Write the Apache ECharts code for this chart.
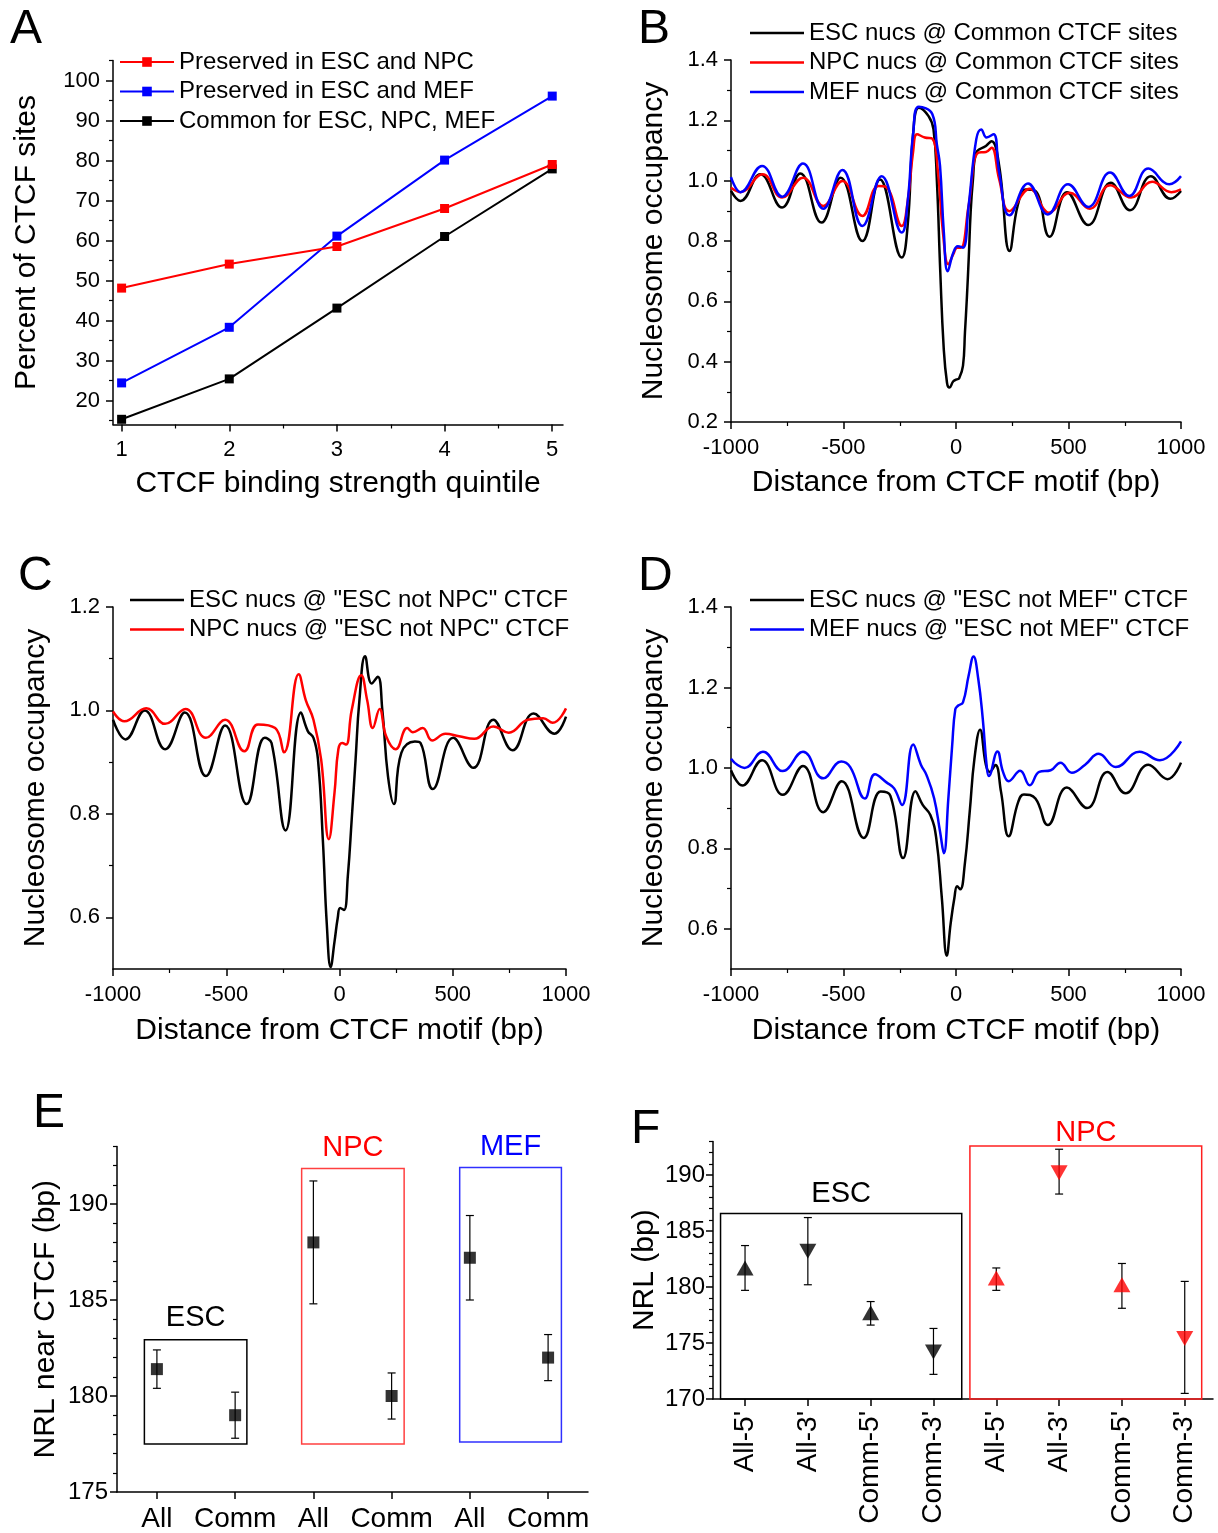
<!DOCTYPE html>
<html><head><meta charset="utf-8">
<script src="https://cdn.jsdelivr.net/npm/echarts@6/dist/echarts.min.js"></script>
<style>html,body{margin:0;padding:0;background:#fff}#c{width:1218px;height:1533px}</style>
</head><body><div id="c"></div>
<script>
// ---------------- DATA ----------------
// Panel A
const aQuintiles = [1, 2, 3, 4, 5];
const aEscNpc = [48.1, 54.1, 58.5, 68.0, 79.0];
const aEscMef = [24.4, 38.3, 61.1, 80.1, 96.1];
const aCommon = [15.3, 25.4, 43.1, 61.0, 77.9];
const aNames = ['Preserved in ESC and NPC', 'Preserved in ESC and MEF', 'Common for ESC, NPC, MEF'];

// Panel B (Common CTCF sites)
const bEscX = [-1000,-958,-870,-773,-692,-598,-513,-416,-338,-241,-215,-190,-165,-122,-100,-85,-70,-55,-40,-29,-12,3,14,31,40,48,57,65,75,90,133,158,192,238,275,311,353,416,493,588,688,773,866,953,1000];
const bEscY = [0.966,0.933,1.021,0.911,1.024,0.861,1.010,0.800,1.004,0.745,0.85,1.16,1.242,1.214,1.17,1.0,0.70,0.45,0.33,0.314,0.335,0.341,0.345,0.386,0.50,0.607,0.75,0.894,1.0,1.093,1.115,1.131,1.049,0.767,0.92,0.971,0.966,0.814,0.962,0.853,0.993,0.902,1.015,0.940,0.966];
const bNpcX = [-1000,-958,-860,-773,-680,-590,-505,-416,-345,-310,-241,-215,-190,-173,-139,-105,-80,-58,-34,-12,5,22,56,99,133,158,192,238,328,413,506,595,685,778,872,957,1000];
const bNpcY = [0.977,0.962,1.021,0.944,1.010,0.916,0.999,0.883,0.982,0.978,0.850,0.93,1.10,1.154,1.143,1.139,1.027,0.828,0.723,0.756,0.778,0.778,0.916,1.093,1.095,1.109,1.004,0.899,0.973,0.894,0.960,0.907,0.985,0.944,0.996,0.962,0.971];
const bMefX = [-1000,-958,-862,-773,-680,-590,-505,-416,-330,-241,-215,-190,-165,-105,-85,-71,-54,-37,-12,8,31,56,90,112,136,167,192,238,320,408,498,588,685,770,855,948,1000];
const bMefY = [1.012,0.962,1.049,0.947,1.057,0.907,1.035,0.850,1.015,0.828,0.93,1.16,1.245,1.220,1.12,1.049,0.828,0.700,0.761,0.783,0.778,0.916,1.137,1.170,1.143,1.154,1.027,0.885,0.991,0.888,0.988,0.913,1.027,0.949,1.040,0.988,1.015];
const bNames = ['ESC nucs @ Common CTCF sites', 'NPC nucs @ Common CTCF sites', 'MEF nucs @ Common CTCF sites'];

// Panel C ("ESC not NPC" CTCF)
const cEscX = [-1000,-945,-860,-770,-683,-590,-505,-410,-330,-300,-238,-170,-140,-115,-95,-73,-56,-39,-22,-8,3,20,37,54,71,88,113,142,169,189,214,240,273,333,358,412,502,591,679,764,857,949,1000];
const cEscY = [0.982,0.944,1.000,0.925,0.996,0.873,0.971,0.819,0.947,0.937,0.768,0.996,0.960,0.947,0.905,0.745,0.586,0.504,0.553,0.598,0.618,0.614,0.681,0.790,0.905,1.020,1.105,1.052,1.065,1.001,0.873,0.819,0.918,0.940,0.937,0.848,0.947,0.889,0.982,0.923,0.994,0.955,0.988];
const cNpcX = [-1000,-950,-853,-770,-680,-590,-505,-420,-360,-284,-245,-180,-149,-115,-81,-47,-22,-5,12,29,54,96,122,147,177,206,248,299,324,367,409,468,528,595,679,747,831,899,941,1000];
const cNpcY = [0.998,0.979,1.004,0.974,1.003,0.947,0.982,0.921,0.973,0.966,0.919,1.070,1.020,0.982,0.905,0.751,0.841,0.925,0.937,0.934,1.001,1.068,1.020,0.966,1.003,0.950,0.925,0.966,0.958,0.966,0.942,0.955,0.950,0.945,0.969,0.957,0.982,0.985,0.976,1.004];
const cNames = ['ESC nucs @ "ESC not NPC" CTCF', 'NPC nucs @ "ESC not NPC" CTCF'];

// Panel D ("ESC not MEF" CTCF)
const dEscX = [-1000,-950,-862,-770,-680,-590,-508,-410,-335,-292,-235,-180,-148,-114,-88,-63,-41,-24,-7,5,19,39,61,82,107,133,150,175,200,234,277,302,353,408,493,583,673,753,855,940,1000];
const dEscY = [0.994,0.956,1.019,0.933,1.005,0.890,0.967,0.826,0.941,0.931,0.776,0.942,0.908,0.883,0.826,0.677,0.533,0.612,0.677,0.706,0.698,0.760,0.891,1.023,1.095,1.007,0.990,1.007,0.941,0.830,0.916,0.934,0.924,0.858,0.951,0.900,0.990,0.937,1.008,0.972,1.013];
const dMefX = [-1000,-971,-940,-858,-770,-680,-590,-510,-470,-405,-360,-309,-275,-240,-190,-156,-131,-97,-71,-54,-34,-17,-3,10,31,56,78,99,119,136,146,184,209,234,285,328,370,421,464,515,574,634,710,815,906,1000];
const dMefY = [1.023,1.007,1.000,1.040,0.992,1.040,0.974,1.016,1.002,0.924,0.984,0.964,0.949,0.908,1.058,1.008,0.982,0.924,0.842,0.788,0.924,1.056,1.146,1.155,1.163,1.229,1.277,1.221,1.122,1.007,0.980,1.041,0.990,0.967,0.993,0.957,0.990,0.994,1.013,0.988,1.008,1.035,1.002,1.040,1.019,1.066];
const dNames = ['ESC nucs @ "ESC not MEF" CTCF', 'MEF nucs @ "ESC not MEF" CTCF'];

// Panel E
const eLabels = ['All', 'Comm', 'All', 'Comm', 'All', 'Comm'];
const eNrl = [181.4, 179.0, 188.0, 180.0, 187.2, 182.0];
const eLow = [180.4, 177.8, 184.8, 178.8, 185.0, 180.8];
const eHigh = [182.4, 180.2, 191.2, 181.2, 189.4, 183.2];
const eGroups = ['ESC', 'NPC', 'MEF'];

// Panel F
const fLabels = ["All-5'", "All-3'", "Comm-5'", "Comm-3'", "All-5'", "All-3'", "Comm-5'", "Comm-3'"];
const fNrl = [181.7, 183.2, 177.7, 174.2, 180.8, 190.2, 180.2, 175.4];
const fLow = [179.7, 180.2, 176.6, 172.2, 179.7, 188.3, 178.1, 170.5];
const fHigh = [183.7, 186.2, 178.7, 176.3, 181.7, 192.3, 182.1, 180.5];
const fEnd = ['5', '3', '5', '3', '5', '3', '5', '3'];
const fCell = ['ESC', 'ESC', 'ESC', 'ESC', 'NPC', 'NPC', 'NPC', 'NPC'];

// ---------------- CHART ----------------
const FONT = '"Liberation Sans", Arial, Helvetica, sans-serif';
const RED = '#ff0000', BLUE = '#0000ff', BLACK = '#000000';
const chart = echarts.init(document.getElementById('c'), null, {renderer: 'canvas'});
const grids = [], xAxes = [], yAxes = [], series = [], legends = [], graphics = [];

function addGrid(left, top, width, height) {
  grids.push({left, top, width, height, containLabel: false, outerBoundsMode: 'none'});
  return grids.length - 1;
}
function range(a, b, s) { const r = []; for (let v = a; v <= b + 1e-9; v += s) r.push(+v.toFixed(6)); return r; }

function addAxis(list, dim, gi, cfg) {
  const pos = dim === 'x' ? 'bottom' : 'left';
  list.push({
    type: 'value', gridIndex: gi, position: pos, min: cfg.min, max: cfg.max,
    axisLine: {show: true, onZero: false, lineStyle: {color: BLACK, width: 1.5}},
    axisTick: {show: true, inside: false, length: 7, customValues: cfg.majors, lineStyle: {color: BLACK, width: 1.5}},
    axisLabel: {show: true, customValues: cfg.majors, margin: cfg.margin || 13, color: BLACK, fontFamily: FONT,
      fontSize: cfg.labelSize || 22, formatter: cfg.fmt, rotate: cfg.rotate || 0, hideOverlap: false},
    splitLine: {show: false}, minorTick: {show: false},
    name: cfg.name || '', nameLocation: 'middle', nameGap: cfg.nameGap || 40, nameMoveOverlap: false,
    nameTextStyle: {color: BLACK, fontFamily: FONT, fontSize: 30}
  });
  const idx = list.length - 1;
  if (cfg.minors && cfg.minors.length) {
    list.push({
      type: 'value', gridIndex: gi, position: pos, min: cfg.min, max: cfg.max,
      axisLine: {show: false, onZero: false},
      axisTick: {show: true, inside: false, length: 4, customValues: cfg.minors, lineStyle: {color: BLACK, width: 1.2}},
      axisLabel: {show: false}, splitLine: {show: false}
    });
  }
  return idx;
}
const fmt1 = v => (+v).toFixed(1);
const fmt0 = v => String(Math.round(v));
function pairs(xs, ys) { return xs.map((x, i) => [x, ys[i]]); }
function curve(name, xi, yi, xs, ys, color) {
  series.push({type: 'line', name, xAxisIndex: xi, yAxisIndex: yi, data: pairs(xs, ys),
    symbol: 'none', smooth: 0.45, lineStyle: {color, width: 2.5}, itemStyle: {color}, animation: false});
}
function legend(names, left, top, lineOnly) {
  const data = lineOnly ? names.map(n => ({name: n, icon: 'rect'})) : names;
  legends.push({data, orient: 'vertical', left, top, padding: 0, itemGap: 5.5, itemWidth: 54,
    itemHeight: lineOnly ? 2.5 : 12,
    textStyle: {fontFamily: FONT, fontSize: 24, color: BLACK, lineHeight: 24}, selectedMode: false});
}
function letter(t, left, top) {
  graphics.push({type: 'text', left, top, style: {text: t, fontFamily: FONT, fontSize: 48, fill: BLACK}});
}

// ----- Panel A -----
let g = addGrid(113, 60.5, 450, 364);
let xi = addAxis(xAxes, 'x', g, {min: 0.92, max: 5.1, majors: aQuintiles, minors: [1.5, 2.5, 3.5, 4.5], fmt: fmt0,
  name: 'CTCF binding strength quintile', nameGap: 44, margin: 14});
let yi = addAxis(yAxes, 'y', g, {min: 14, max: 105, majors: range(20, 100, 10), minors: range(15, 105, 10), fmt: fmt0,
  name: 'Percent of CTCF sites', nameGap: 71});
[[aNames[2], aCommon, BLACK], [aNames[1], aEscMef, BLUE], [aNames[0], aEscNpc, RED]].forEach(([n, v, c]) => {
  series.push({type: 'line', name: n, xAxisIndex: xi, yAxisIndex: yi, data: pairs(aQuintiles, v),
    symbol: 'rect', symbolSize: 9, showSymbol: true, lineStyle: {color: c, width: 2}, itemStyle: {color: c}, animation: false});
});
legend(aNames, 119, 50, false);
letter('A', 10, 6);

// ----- Panel B -----
g = addGrid(731, 60, 450, 362);
xi = addAxis(xAxes, 'x', g, {min: -1000, max: 1000, majors: range(-1000, 1000, 500), minors: [-750, -250, 250, 750], fmt: fmt0,
  name: 'Distance from CTCF motif (bp)', nameGap: 46, margin: 15});
yi = addAxis(yAxes, 'y', g, {min: 0.2, max: 1.4, majors: range(0.2, 1.4, 0.2), minors: range(0.3, 1.3, 0.2), fmt: fmt1,
  name: 'Nucleosome occupancy', nameGap: 62});
curve(bNames[0], xi, yi, bEscX, bEscY, BLACK);
curve(bNames[1], xi, yi, bNpcX, bNpcY, RED);
curve(bNames[2], xi, yi, bMefX, bMefY, BLUE);
legend(bNames, 750, 21, true);
letter('B', 638, 6);

// ----- Panel C -----
g = addGrid(113, 607, 453, 362);
xi = addAxis(xAxes, 'x', g, {min: -1000, max: 1000, majors: range(-1000, 1000, 500), minors: [-750, -250, 250, 750], fmt: fmt0,
  name: 'Distance from CTCF motif (bp)', nameGap: 47, margin: 15});
yi = addAxis(yAxes, 'y', g, {min: 0.5, max: 1.2, majors: [0.6, 0.8, 1.0, 1.2], minors: [0.7, 0.9, 1.1], fmt: fmt1,
  name: 'Nucleosome occupancy', nameGap: 62});
curve(cNames[0], xi, yi, cEscX, cEscY, BLACK);
curve(cNames[1], xi, yi, cNpcX, cNpcY, RED);
legend(cNames, 130, 588, true);
letter('C', 18, 553);

// ----- Panel D -----
g = addGrid(731, 607, 450, 362);
xi = addAxis(xAxes, 'x', g, {min: -1000, max: 1000, majors: range(-1000, 1000, 500), minors: [-750, -250, 250, 750], fmt: fmt0,
  name: 'Distance from CTCF motif (bp)', nameGap: 47, margin: 15});
yi = addAxis(yAxes, 'y', g, {min: 0.5, max: 1.4, majors: [0.6, 0.8, 1.0, 1.2, 1.4], minors: [0.7, 0.9, 1.1, 1.3], fmt: fmt1,
  name: 'Nucleosome occupancy', nameGap: 62});
curve(dNames[0], xi, yi, dEscX, dEscY, BLACK);
curve(dNames[1], xi, yi, dMefX, dMefY, BLUE);
legend(dNames, 750, 588, true);
letter('D', 638, 553);

// error bar renderer
function errBars(xi, yi, data, capHalf) {
  return {type: 'custom', xAxisIndex: xi, yAxisIndex: yi, data, encode: {x: 0, y: [1, 2]}, animation: false, z: 3,
    renderItem: function (params, api) {
      const x = api.value(0);
      const t = api.coord([x, api.value(2)]), b = api.coord([x, api.value(1)]);
      const st = {stroke: BLACK, lineWidth: 1.2};
      return {type: 'group', children: [
        {type: 'line', shape: {x1: t[0], y1: t[1], x2: b[0], y2: b[1]}, style: st},
        {type: 'line', shape: {x1: t[0] - capHalf, y1: t[1], x2: t[0] + capHalf, y2: t[1]}, style: st},
        {type: 'line', shape: {x1: b[0] - capHalf, y1: b[1], x2: b[0] + capHalf, y2: b[1]}, style: st}
      ]};
    }};
}
function boxLabel(text, color, dist) {
  return {show: true, position: 'top', distance: dist, color, fontFamily: FONT, fontSize: 29, formatter: text};
}

// ----- Panel E -----
g = addGrid(117, 1146.4, 471, 345.6);
const ePos = eLabels.map((_, i) => i + 1);
xi = addAxis(xAxes, 'x', g, {min: 0.49, max: 6.51, majors: ePos, fmt: v => eLabels[Math.round(v) - 1], labelSize: 28, margin: 13});
yi = addAxis(yAxes, 'y', g, {min: 175, max: 193, majors: [175, 180, 185, 190],
  minors: range(176, 193, 1).filter(v => v % 5 !== 0), fmt: fmt0, labelSize: 24, margin: 9,
  name: 'NRL near CTCF (bp)', nameGap: 56});
series.push(errBars(xi, yi, ePos.map((p, i) => [p, eLow[i], eHigh[i]]), 4));
series.push({type: 'scatter', xAxisIndex: xi, yAxisIndex: yi, data: pairs(ePos, eNrl), symbol: 'rect', symbolSize: 12,
  itemStyle: {color: BLACK}, z: 4, animation: false,
  markArea: {silent: true, z: 1, itemStyle: {color: 'rgba(0,0,0,0)', borderWidth: 1.5},
    data: [
      [{xAxis: 0.84, yAxis: 182.93, itemStyle: {borderColor: '#000'}, label: boxLabel(eGroups[0], BLACK, 6)}, {xAxis: 2.15, yAxis: 177.5}],
      [{xAxis: 2.85, yAxis: 191.85, itemStyle: {borderColor: '#ff4040'}, label: boxLabel(eGroups[1], RED, 5)}, {xAxis: 4.16, yAxis: 177.5}],
      [{xAxis: 4.87, yAxis: 191.9, itemStyle: {borderColor: '#3030ff'}, label: boxLabel(eGroups[2], BLUE, 5)}, {xAxis: 6.17, yAxis: 177.6}]
    ]}});
letter('E', 33, 1090);

// ----- Panel F -----
g = addGrid(713, 1141.4, 500, 257.6);
const fPos = fLabels.map((_, i) => i + 1);
xi = addAxis(xAxes, 'x', g, {min: 0.49, max: 8.45, majors: fPos, fmt: v => fLabels[Math.round(v) - 1], labelSize: 28, rotate: 90, margin: 12});
yi = addAxis(yAxes, 'y', g, {min: 170, max: 193, majors: [170, 175, 180, 185, 190],
  minors: range(171, 193, 1).filter(v => v % 5 !== 0), fmt: fmt0, labelSize: 24, margin: 8,
  name: 'NRL (bp)', nameGap: 53});
series.push(errBars(xi, yi, fPos.map((p, i) => [p, fLow[i], fHigh[i]]), 4));
series.push({type: 'scatter', xAxisIndex: xi, yAxisIndex: yi, z: 4, animation: false,
  data: fPos.map((p, i) => ({value: [p, fNrl[i]], symbolRotate: fEnd[i] === '3' ? 180 : 0,
    itemStyle: {color: fCell[i] === 'NPC' ? RED : BLACK}})),
  symbol: 'triangle', symbolSize: [17, 15],
  markArea: {silent: true, z: 1, itemStyle: {color: 'rgba(0,0,0,0)', borderWidth: 1.5},
    data: [
      [{xAxis: 0.61, yAxis: 186.57, itemStyle: {borderColor: '#000'}, label: boxLabel('ESC', BLACK, 4)}, {xAxis: 4.45, yAxis: 170}],
      [{xAxis: 4.58, yAxis: 192.6, itemStyle: {borderColor: '#ff2020'}, label: boxLabel('NPC', RED, -2)}, {xAxis: 8.27, yAxis: 170}]
    ]}});
letter('F', 631, 1106);

chart.setOption({
  backgroundColor: '#ffffff', animation: false,
  grid: grids, xAxis: xAxes, yAxis: yAxes, series, legend: legends, graphic: graphics,
  tooltip: {show: false}
});
</script>
</body></html>
